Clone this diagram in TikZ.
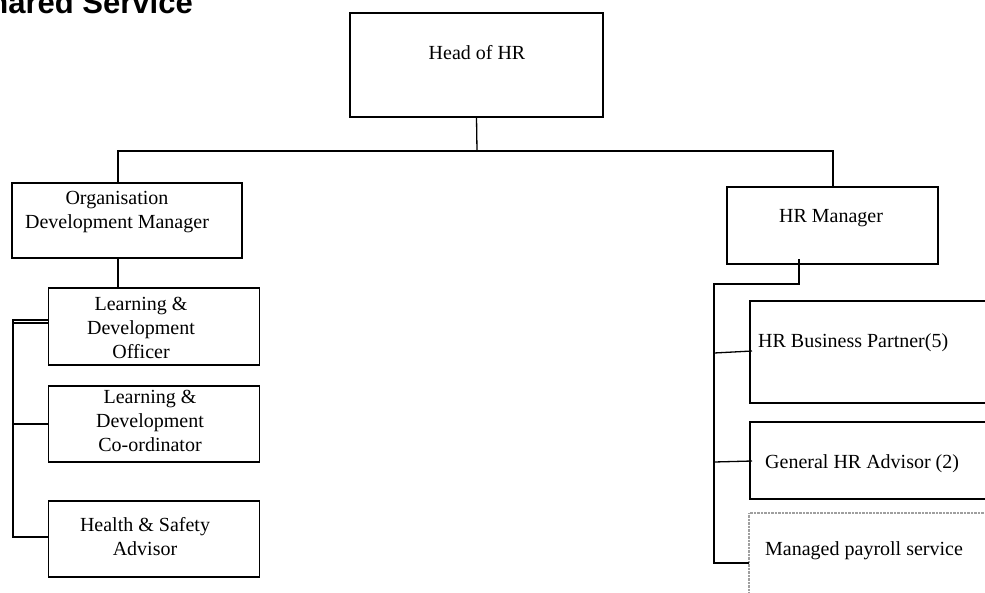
\documentclass[tikz,border=0pt]{standalone}
\usepackage{fontspec}
\setmainfont{Liberation Serif}
\newfontfamily\titlefont{Liberation Sans}
\begin{document}
\begin{tikzpicture}[x=1pt,y=-1pt,
  box/.style={draw, line width=1.3pt, inner sep=0pt, outer sep=0pt, anchor=north west},
  dotbox/.style={draw=gray!75, line width=1.6pt, dash pattern=on 0.7pt off 0.7pt, inner sep=0pt, outer sep=0pt, anchor=north west},
  lbl/.style={font=\fontsize{20}{24}\selectfont, inner sep=0pt, align=center, anchor=base},
  lbll/.style={font=\fontsize{20}{24}\selectfont, inner sep=0pt, anchor=base west},
  wire/.style={line width=1.3pt}]
\useasboundingbox (0,0) rectangle (985,592);
\clip (0,0) rectangle (985,592);

% title
\node[font=\titlefont\bfseries\fontsize{31}{31}\selectfont, anchor=base east, inner sep=0pt] (title) at (193,13) {Shared Service};

% boxes
\node[box, minimum width=253pt, minimum height=104pt] (head) at (350,13) {};
\node[box, minimum width=230pt, minimum height=75pt] (org) at (12,183) {};
\node[box, minimum width=211pt, minimum height=77pt] (ldo) at (48.5,288) {};
\node[box, minimum width=211pt, minimum height=76pt] (ldc) at (48.5,386) {};
\node[box, minimum width=211pt, minimum height=76pt] (hs) at (48.5,501) {};
\node[box, minimum width=211pt, minimum height=77pt] (hrm) at (727,187) {};
\node[box, minimum width=260pt, minimum height=102pt] (hrbp) at (750,301) {};
\node[box, minimum width=260pt, minimum height=77pt] (gha) at (750,422) {};
\node[dotbox, minimum width=260pt, minimum height=100pt] (pay) at (749,513) {};

% labels (base anchor sits on the last line's baseline)
\node[lbl] (headtxt) at (477,59) {Head of HR};
\node[lbl] (orgtxt) at (117,228) {Organisation\\Development Manager};
\node[lbl] (ldotxt) at (141,358) {Learning \&\\Development\\Officer};
\node[lbl] (ldctxt) at (150,451) {Learning \&\\Development\\Co-ordinator};
\node[lbl] (hstxt) at (145,555) {Health \& Safety\\Advisor};
\node[lbl] (hrmtxt) at (831,222) {HR Manager};
\node[lbll] (hrbptxt) at (758,347) {HR Business Partner(5)};
\node[lbll] (ghatxt) at (765,468) {General HR Advisor (2)};
\node[lbll] (paytxt) at (765,555) {Managed payroll service};

% attachment points
\coordinate (hb) at (477,151);
\coordinate (orgtop) at (118,183);
\coordinate (hrmtop) at (833,187);
\coordinate (orgbot) at (118,258);
\coordinate (ldotop) at (118,288);
\coordinate (lbus) at (13,320);
\coordinate (ldoa) at (48.5,320);
\coordinate (ldob) at (48.5,323);
\coordinate (ldca) at (48.5,424);
\coordinate (hsa) at (48.5,537);
\coordinate (hrmb) at (799,259);
\coordinate (rbus) at (714,284);
\coordinate (hrbpa) at (752,351);
\coordinate (ghaa) at (752,461);
\coordinate (paya) at (749,563);

% top level
\draw[wire] (head.south) -- (hb);
\draw[wire] (orgtop) |- (hb) -| (hrmtop);

% organisation development branch
\draw[wire] (orgbot) -- (ldotop);
\draw[wire] (ldoa) -- (lbus) |- (hsa);
\draw[wire] (ldob) -- (ldob -| lbus);
\draw[wire] (ldca) -- (ldca -| lbus);

% HR manager branch
\draw[wire] (hrmb) |- (rbus) |- (paya);
\draw[wire] ([yshift=-2pt]hrbpa -| rbus) -- (hrbpa);
\draw[wire] ([yshift=-1pt]ghaa -| rbus) -- (ghaa);
\end{tikzpicture}
\end{document}
